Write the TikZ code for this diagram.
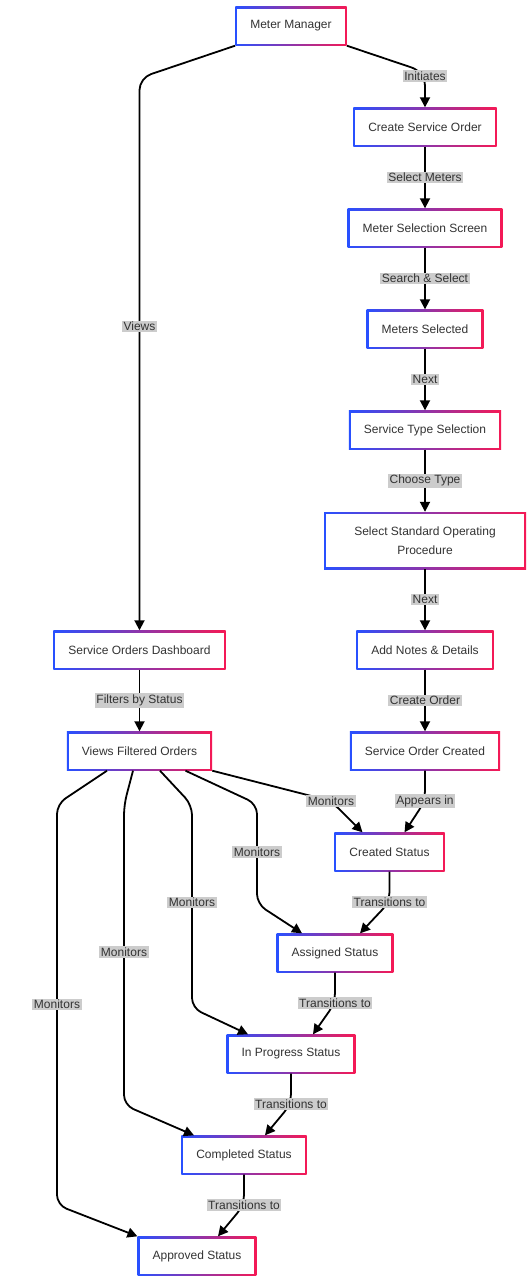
\documentclass[tikz,border=0pt]{standalone}
\usepackage{fontspec}
\setmainfont{Liberation Sans}
\usepackage{tikz}
\usetikzlibrary{arrows.meta,positioning,calc}
\usepackage{xcolor}

\definecolor{mblue}{RGB}{40,80,255}
\definecolor{mpink}{RGB}{245,25,85}
\definecolor{lblgray}{RGB}{204,204,204}
\definecolor{txtgray}{RGB}{51,51,51}

\tikzset{
    box/.style={rectangle, left color=mblue, right color=mpink, minimum height=39pt,
        inner xsep=15pt, text=txtgray, font=\fontsize{12}{19}\selectfont,
        path picture={\fill[white] ([shift={(2pt,2pt)}]path picture bounding box.south west)
            rectangle ([shift={(-2pt,-2pt)}]path picture bounding box.north east);}},
    lbl/.style={sharp corners, fill=lblgray, inner sep=1.5pt, text=txtgray, font=\fontsize{12}{14}\selectfont},
    conn/.style={line width=1.8pt, -{Triangle[length=10pt,width=10pt]}, rounded corners=10pt}
}

\begin{document}
\begin{tikzpicture}[x=1pt, y=-1pt]
    \useasboundingbox (0,0) rectangle (530,1278);

    % Nodes
    \node[box] (mm) at (291, 26) {Meter Manager};
    \node[box] (cso) at (425, 127) {Create Service Order};
    \node[box] (mss) at (425, 228) {Meter Selection Screen};
    \node[box] (msel) at (425, 329) {Meters Selected};
    \node[box] (sts) at (425, 430) {Service Type Selection};
    \node[box, minimum width=202pt, minimum height=57pt, align=center] (ssop) at (425, 540.5) {Select Standard Operating\\Procedure};
    \node[box] (anod) at (425, 650) {Add Notes \& Details};
    \node[box] (soc) at (425, 751) {Service Order Created};
    \node[box] (cst) at (389.5, 852) {Created Status};
    \node[box] (ast) at (335, 953) {Assigned Status};
    \node[box] (ips) at (291, 1054) {In Progress Status};
    \node[box] (cmp) at (244, 1155) {Completed Status};
    \node[box] (apr) at (197, 1256) {Approved Status};
    \node[box] (sod) at (139.5, 650) {Service Orders Dashboard};
    \node[box] (vfo) at (139.5, 751) {Views Filtered Orders};

    % Order creation flow
    \draw[conn, rounded corners=14pt] (mm.south east) -- (425,72) -- node[lbl, pos=0.11] {Initiates} (cso.north);
    \draw[conn] (cso) -- node[lbl] {Select Meters} (mss);
    \draw[conn] (mss) -- node[lbl] {Search \& Select} (msel);
    \draw[conn] (msel) -- node[lbl] {Next} (sts);
    \draw[conn] (sts) -- node[lbl] {Choose Type} (ssop);
    \draw[conn] (ssop) -- node[lbl] {Next} (anod);
    \draw[conn] (anod) -- node[lbl] {Create Order} (soc);

    % Status chain
    \draw[conn] (soc.south) -- (425,801) node[lbl] {Appears in} -- ([xshift=15pt]cst.north);
    \draw[conn] (cst.south) -- (389.5,902) node[lbl] {Transitions to} -- ([xshift=25pt]ast.north);
    \draw[conn] (ast.south) -- (335,1003) node[lbl] {Transitions to} -- ([xshift=22pt]ips.north);
    \draw[conn] (ips.south) -- (291,1104) node[lbl] {Transitions to} -- ([xshift=21pt]cmp.north);
    \draw[conn] (cmp.south) -- (244,1205) node[lbl] {Transitions to} -- ([xshift=21pt]apr.north);

    % Dashboard
    \draw[conn, rounded corners=12pt] (mm.south west) -- (139.5,78) -- node[lbl, pos=0.45] {Views} (sod.north);
    \draw[conn] (sod) -- node[lbl] {Filters by Status} (vfo);

    % Monitoring
    \draw[conn] (vfo.south east) -- (331,801) node[lbl] {Monitors} -- ([xshift=-27pt]cst.north);
    \draw[conn] ([xshift=46pt]vfo.south) -- (257,804) -- node[lbl, pos=0.48] {Monitors} (257,904) -- ([xshift=-33pt]ast.north);
    \draw[conn] ([xshift=20.5pt]vfo.south) -- (192,805) -- node[lbl, pos=0.48] {Monitors} (192,1008) -- ([xshift=-43pt]ips.north);
    \draw[conn] ([xshift=-6.5pt]vfo.south) -- (124,805) -- node[lbl, pos=0.49] {Monitors} (124,1105) -- ([xshift=-50pt]cmp.north);
    \draw[conn] ([xshift=-32.5pt]vfo.south) -- (57,804) -- node[lbl, pos=0.5] {Monitors} (57,1205) -- (apr.north west);
\end{tikzpicture}
\end{document}
